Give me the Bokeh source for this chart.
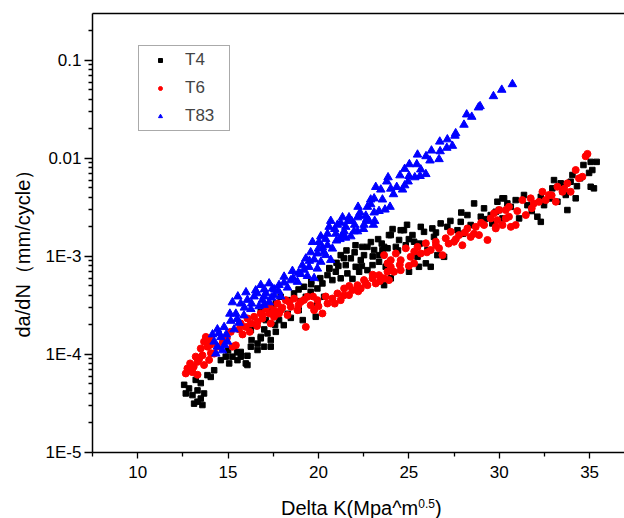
from bokeh.plotting import figure
from bokeh.models import (Range1d, LinearAxis, FixedTicker, CustomJSTickFormatter, Title, Div)
from bokeh.layouts import column
from bokeh.embed import file_html
from bokeh.resources import INLINE

# ---------------- data ----------------
dk_t4 = [12.57, 12.84, 12.66, 13.03, 13.31, 13.49, 13.21, 13.49, 13.31, 13.12, 13.58, 13.67, 13.86, 14.04,
         14.23, 14.60, 14.87, 15.06, 15.24, 15.52, 15.70, 15.98, 16.07, 16.26, 16.63, 16.81, 16.99, 17.18,
         17.36, 17.64, 17.82, 15.32, 15.70, 16.07, 16.63, 17.36, 16.81, 18.08, 18.47, 18.91, 19.13, 16.26,
         16.53, 17.09, 21.23, 21.79, 21.51, 22.06, 22.34, 22.52, 22.71, 23.08, 23.35, 23.63, 23.90, 20.96,
         20.50, 20.77, 21.23, 21.60, 21.88, 22.25, 22.71, 22.99, 23.35, 23.72, 20.22, 19.94, 19.57, 19.20,
         19.30, 18.65, 18.29, 17.91, 17.64, 17.18, 19.94, 19.85, 20.31, 16.81, 28.61, 29.90, 30.45, 29.16,
         28.24, 28.98, 29.53, 29.99, 27.87, 28.42, 27.69, 27.13, 26.76, 26.30, 25.66, 24.73, 25.84, 25.20,
         26.39, 24.00, 24.46, 24.83, 25.29, 23.82, 24.28, 23.54, 26.03, 26.58, 26.95, 25.48, 25.94, 26.21,
         25.01, 25.56, 24.00, 23.63, 35.06, 35.39, 34.66, 34.97, 35.15, 34.05, 34.47, 33.95, 33.03, 33.40,
         32.94, 33.68, 34.23, 35.06, 35.24, 33.77, 33.22, 32.30, 32.48, 31.37, 30.91, 30.27, 30.64, 31.56,
         32.11, 32.30, 29.81, 30.18, 29.62, 31.10, 30.18, 22.43, 24.55, 21.55, 22.05, 22.90, 23.30, 24.10,
         24.90, 20.60, 21.00, 19.60, 18.90, 19.00, 19.60, 20.10, 20.60, 21.10, 21.40, 22.00, 22.40, 23.00,
         23.50, 24.40, 25.00, 25.60, 26.50, 27.30, 27.90, 28.00, 29.20, 31.80, 32.80, 33.50, 34.30, 15.00,
         15.50, 16.30, 17.00, 17.60, 18.30]
dadn_t4 = [4.9e-5, 4.5e-5, 4.0e-5, 3.85e-5, 4.3e-5, 5.1e-5, 5.5e-5, 3.55e-5, 3.3e-5, 3.15e-5, 3.05e-5, 4.0e-5,
           6.15e-5, 5.9e-5, 6.9e-5, 8.75e-5, 9.5e-5, 8.1e-5, 9.5e-5, 8.75e-5, 1.06e-4, 8.1e-5, 9.7e-5, 1.2e-4,
           1.29e-4, 1.46e-4, 1.2e-4, 1.64e-4, 1.4e-4, 1.7e-4, 2.24e-4, 1.2e-4, 9.5e-5, 7.8e-5, 1.11e-4, 1.2e-4,
           1.51e-4, 1.99e-4, 2.36e-4, 2.83e-4, 2.24e-4, 1.77e-4, 1.99e-4, 2.24e-4, 1.03e-3, 9.55e-4, 8.15e-4,
           7.83e-4, 9.16e-4, 1.03e-3, 1.25e-3, 1.16e-3, 1.03e-3, 1.25e-3, 1.65e-3, 6.97e-4, 6.44e-4, 5.73e-4,
           5.97e-4, 6.71e-4, 5.9e-4, 6.97e-4, 7.24e-4, 8.15e-4, 8.81e-4, 7.83e-4, 5.3e-4, 4.71e-4, 4.35e-4,
           4.9e-4, 3.87e-4, 4.19e-4, 3.58e-4, 3.87e-4, 3.31e-4, 2.94e-4, 3.31e-4, 2.42e-4, 3.87e-4, 2.72e-4,
           3.47e-3, 3.61e-3, 3.47e-3, 3.09e-3, 2.64e-3, 2.54e-3, 2.64e-3, 2.97e-3, 2.25e-3, 2.09e-3, 1.85e-3,
           2.0e-3, 2.17e-3, 1.93e-3, 2.0e-3, 1.85e-3, 1.78e-3, 1.65e-3, 1.58e-3, 1.65e-3, 1.47e-3, 1.3e-3,
           1.41e-3, 1.21e-3, 1.25e-3, 1.16e-3, 1.16e-3, 1.03e-3, 9.9e-4, 9.9e-4, 8.49e-4, 7.83e-4, 6.97e-4,
           7.83e-4, 5.97e-4, 5.09e-4, 9.2e-3, 9.2e-3, 8.55e-3, 7.1e-3, 7.6e-3, 6.76e-3, 6.25e-3, 5.77e-3,
           6.0e-3, 5.56e-3, 4.94e-3, 4.23e-3, 3.91e-3, 5.13e-3, 4.94e-3, 2.97e-3, 3.61e-3, 4.05e-3, 3.33e-3,
           4.23e-3, 3.75e-3, 3.91e-3, 3.2e-3, 3.33e-3, 2.54e-3, 2.25e-3, 2.85e-3, 2.44e-3, 2.17e-3, 2.44e-3,
           3.91e-3, 1.25e-3, 1.85e-3, 1.15e-3, 1.3e-3, 1.4e-3, 1.5e-3, 1.9e-3,
           2.1e-3, 7.6e-4, 8.6e-4, 5.6e-4, 4.6e-4, 3.5e-4, 5.2e-4, 6.0e-4, 7.5e-4, 8.0e-4, 9.6e-4, 1.1e-3,
           8.0e-4, 1.0e-3, 1.35e-3, 1.15e-3, 1.5e-3, 1.35e-3, 1.75e-3, 2.3e-3, 2.8e-3, 1.7e-3, 2.4e-3, 2.9e-3,
           3.9e-3, 4.6e-3, 5.2e-3, 1.1e-4, 1.05e-4, 1.4e-4, 1.8e-4, 2.0e-4, 2.6e-4]

dk_t6 = [12.75, 12.66, 13.03, 13.31, 12.90, 13.31, 13.67, 13.21, 13.58, 13.95, 13.49, 13.86, 13.67, 14.04,
         14.23, 13.77, 15.24, 15.43, 15.15, 15.61, 15.98, 15.70, 16.26, 16.63, 16.07, 16.44, 16.90, 16.81,
         17.27, 17.09, 17.54, 17.36, 17.82, 14.71, 14.93, 14.05, 17.13, 17.73, 17.91, 18.19, 18.47, 18.65,
         18.84, 19.02, 19.39, 19.57, 19.76, 19.94, 20.22, 20.50, 20.77, 21.05, 21.23, 21.42, 21.69, 21.88,
         22.16, 22.34, 22.52, 22.71, 22.99, 23.17, 23.35, 23.63, 23.82, 19.30, 17.54, 16.90, 18.29, 23.63,
         23.82, 24.18, 23.54, 23.90, 24.28, 24.55, 24.83, 25.10, 25.29, 25.48, 25.66, 25.94, 26.21, 26.49,
         26.67, 26.86, 27.04, 27.32, 27.50, 27.78, 27.96, 28.24, 28.42, 28.70, 28.88, 29.16, 29.35, 29.53,
         29.81, 29.99, 30.36, 30.54, 30.18, 24.00, 24.55, 29.71, 29.90, 30.36, 30.54, 30.91, 31.28, 31.47,
         31.74, 31.92, 32.39, 32.57, 32.75, 33.13, 33.22, 33.50, 33.77, 33.95, 34.23, 34.41, 34.60, 34.88,
         34.78, 29.81, 30.64, 17.30, 17.70, 18.00, 18.40, 18.90, 19.20, 19.70, 20.00, 20.40, 20.90, 21.40,
         21.70, 22.20, 22.60, 23.00, 23.40, 24.00, 24.50, 25.00, 25.30, 26.00, 26.50, 27.20, 27.60, 28.10,
         28.60, 29.00, 31.00, 31.80, 32.20, 32.90, 33.60, 16.20, 16.60, 15.80, 14.40, 14.00, 13.40, 13.10]
dadn_t6 = [7.2e-5, 6.4e-5, 6.6e-5, 6.2e-5, 8.1e-5, 8.4e-5, 7.8e-5, 9.5e-5, 9.8e-5, 8.8e-5, 1.15e-4, 1.2e-4,
           1.35e-4, 1.4e-4, 1.02e-4, 1.51e-4, 1.2e-4, 1.24e-4, 1.7e-4, 1.8e-4, 1.91e-4, 2.07e-4, 2.07e-4,
           2.15e-4, 2.33e-4, 2.42e-4, 2.33e-4, 2.62e-4, 2.62e-4, 2.94e-4, 2.83e-4, 2.07e-4, 2.62e-4, 1.34e-4,
           1.47e-4, 1.03e-4, 3.06e-4, 3.31e-4, 2.83e-4, 3.58e-4, 3.06e-4, 3.72e-4, 2.83e-4, 3.44e-4, 3.87e-4,
           3.18e-4, 2.83e-4, 3.58e-4, 2.62e-4, 3.31e-4, 3.72e-4, 4.19e-4, 3.58e-4, 4.71e-4, 4.03e-4, 4.53e-4,
           5.09e-4, 4.71e-4, 5.73e-4, 5.09e-4, 5.97e-4, 5.3e-4, 6.44e-4, 5.97e-4, 6.98e-4, 1.91e-4, 2.42e-4,
           2.52e-4, 2.52e-4, 1.03e-3, 8.49e-4, 6.97e-4, 5.97e-4, 5.73e-4, 1.07e-3, 9.16e-4, 1.21e-3, 9.9e-4,
           8.49e-4, 1.25e-3, 1.07e-3, 1.36e-3, 1.16e-3, 1.41e-3, 1.21e-3, 1.03e-3, 1.53e-3, 1.78e-3, 1.41e-3,
           1.65e-3, 1.3e-3, 1.93e-3, 1.58e-3, 2.0e-3, 1.65e-3, 2.09e-3, 1.47e-3, 2.44e-3, 2.0e-3, 2.97e-3,
           2.44e-3, 3.2e-3, 2.09e-3, 9.16e-4, 7.24e-4, 2.75e-3, 2.34e-3, 2.97e-3, 2.54e-3, 2.09e-3, 3.75e-3,
           2.64e-3, 3.91e-3, 3.47e-3, 4.56e-3, 3.75e-3, 4.23e-3, 3.61e-3, 5.13e-3, 4.56e-3, 5.56e-3, 4.56e-3,
           7.6e-3, 6.25e-3, 6.49e-3, 1.11e-2, 1.05e-2, 1.93e-3, 2.0e-3, 3.2e-4, 2.6e-4, 3.0e-4, 3.4e-4,
           3.2e-4, 3.6e-4, 3.9e-4, 3.1e-4, 3.9e-4, 3.3e-4, 4.0e-4, 5.0e-4, 4.4e-4, 5.4e-4, 6.5e-4, 5.6e-4,
           7.8e-4, 8.2e-4, 8.0e-4, 1.12e-3, 1.1e-3, 1.3e-3, 1.35e-3, 1.5e-3, 1.75e-3, 1.7e-3, 2.2e-3, 2.9e-3,
           3.1e-3, 3.6e-3, 4.2e-3, 4.9e-3, 1.7e-4, 1.95e-4, 1.6e-4, 1.2e-4, 1.25e-4, 9.0e-5, 7.5e-5]

dk_t83 = [30.73, 30.14, 29.68, 28.94, 28.85, 28.20, 28.48, 28.05, 27.59, 27.55, 27.13, 26.71, 27.41, 27.10,
          26.73, 26.25, 25.95, 25.48, 26.17, 26.67, 25.44, 25.03, 24.77, 25.66, 24.51, 23.85, 25.01, 25.33,
          25.62, 25.94, 24.96, 24.77, 23.78, 23.17, 23.45, 24.00, 24.33, 24.15, 24.65, 22.89, 23.08, 23.54,
          23.96, 23.68, 23.35, 23.08, 22.71, 22.19, 22.30, 22.62, 23.11, 22.80, 22.16, 21.83, 21.33, 21.69,
          20.68, 21.05, 21.51, 21.97, 22.49, 20.50, 20.96, 21.33, 22.89, 22.25, 22.67, 23.04, 22.52, 22.16,
          21.23, 21.64, 20.59, 20.90, 21.42, 21.79, 21.19, 20.13, 20.40, 19.67, 20.03, 20.50, 20.77, 20.22,
          19.57, 19.94, 20.40, 19.30, 19.76, 20.13, 20.68, 19.11, 19.48, 19.94, 18.56, 19.02, 19.39, 19.76,
          18.10, 18.47, 18.84, 17.82, 18.29, 17.46, 17.09, 17.54, 17.91, 16.90, 17.27, 16.99, 16.81, 17.27,
          17.58, 15.24, 15.70, 16.07, 16.44, 16.99, 16.26, 16.71, 15.43, 15.88, 15.15, 15.61, 14.78, 14.41,
          15.33, 14.14, 14.60, 14.23, 14.97, 14.41, 14.69, 14.32, 15.99, 16.53, 15.54, 15.10, 15.50, 15.90,
          16.30, 16.60, 17.00, 17.40, 17.80, 18.10, 18.60, 18.90, 19.20, 19.50, 20.00, 20.30, 21.00, 21.50,
          22.00, 14.50, 14.90, 14.80]
dadn_t83 = [0.057, 0.050, 0.043, 0.034, 0.033, 0.028, 0.0265, 0.022, 0.018, 0.017, 0.0156, 0.0148, 0.0134,
            0.0128, 0.0118, 0.0120, 0.0105, 0.0109, 0.0095, 0.0098, 0.0087, 0.0087, 0.0078, 0.0077, 0.0067,
            0.0064, 0.0066, 0.0064, 0.0066, 0.0069, 0.0058, 0.0053, 0.0058, 0.0051, 0.0048, 0.0049, 0.0051,
            0.0043, 0.0048, 0.0038, 0.0039, 0.0038, 0.0032, 0.0030, 0.0029, 0.0028, 0.0032, 0.0032, 0.0028,
            0.0026, 0.0023, 0.0023, 0.0025, 0.0023, 0.0025, 0.0025, 0.0023, 0.0021, 0.0020, 0.0018, 0.0019,
            0.0017, 0.0017, 0.00165, 0.0034, 0.0026, 0.0024, 0.0021, 0.0021, 0.0018, 0.0022, 0.0023, 0.0020,
            0.0019, 0.0018, 0.0016, 0.0015, 0.0016, 0.0015, 0.0014, 0.0014, 0.0013, 0.0012, 0.00124, 0.0011,
            0.00107, 0.00103, 0.00095, 0.00093, 0.00088, 0.00092, 0.00081, 0.00078, 0.00075, 0.00071, 0.00066,
            0.00063, 0.0006, 0.00062, 0.00057, 0.00055, 0.00051, 0.00048, 0.00047, 0.00042, 0.0004, 0.00039,
            0.00036, 0.00034, 0.00032, 0.00051, 0.00053, 0.00046, 0.00034, 0.00033, 0.00036, 0.00039, 0.00039,
            0.00029, 0.00031, 0.00026, 0.00025, 0.00022, 0.00021, 0.00019, 0.00018, 0.00018, 0.00016, 0.00015,
            0.000135, 0.000135, 0.00012, 0.00011, 0.000102, 0.00043, 0.00045, 0.00039, 0.00026, 0.00023,
            0.00030, 0.00033, 0.00042, 0.00046, 0.00038, 0.00044, 0.00054, 0.00060, 0.00068, 0.00073, 0.00090,
            0.0012, 0.0011, 0.00145, 0.00155, 0.0021, 0.000165, 0.00016, 0.000125]

series_names = ["T4", "T6", "T83"]
x_ticks = [10, 15, 20, 25, 30, 35]
y_ticks = [1e-5, 1e-4, 1e-3, 1e-2, 1e-1]
x_title_main, x_title_sup, x_title_end = "Delta K(Mpa^m", "0.5", ")"
y_title = "da/dN（mm/cycle）"

# ---------------- figure ----------------
FONT = "Liberation Sans"
p = figure(width=624, height=500, output_backend="svg", toolbar_location=None,
           x_range=Range1d(7.5, 36.93), y_range=Range1d(1e-5, 0.3), y_axis_type="log",
           min_border_left=92, min_border_right=0, min_border_top=13, min_border_bottom=48,
           background_fill_color="white", border_fill_color="white", outline_line_color=None)
p.xgrid.visible = False
p.ygrid.visible = False

xa = p.xaxis[0]
xa.ticker = FixedTicker(ticks=x_ticks, minor_ticks=[7.5 + 5 * i for i in range(7)])
ya = p.yaxis[0]
ya.ticker = FixedTicker(ticks=y_ticks,
                        minor_ticks=[m * 10.0 ** e for e in range(-5, 0) for m in range(2, 10)])
ya.formatter = CustomJSTickFormatter(code="""
    const e = Math.round(Math.log10(tick));
    return e >= -2 ? String(Number(tick.toPrecision(3))) : "1E" + e;
""")
for ax in (xa, ya):
    ax.axis_line_width = 1.5
    ax.axis_line_color = "black"
    ax.major_tick_line_width = 1.3
    ax.minor_tick_line_width = 1.3
    ax.major_tick_in = 0
    ax.minor_tick_in = 0
    ax.major_label_text_font = FONT
    ax.major_label_text_font_size = "17px"
    ax.major_label_text_color = "black"
    ax.axis_label = None
xa.major_tick_out = 6
xa.minor_tick_out = 4
xa.major_label_standoff = 7
ya.major_tick_out = 8
ya.minor_tick_out = 4
ya.major_label_standoff = 3

top = LinearAxis(ticker=FixedTicker(ticks=[], minor_ticks=[]), major_label_text_font_size="0px",
                 major_tick_out=0, major_tick_in=0, minor_tick_out=0, minor_tick_in=0,
                 axis_line_width=1.5, axis_line_color="black", axis_label=None)
p.add_layout(top, "above")

# y-axis title
p.add_layout(Title(text=y_title, align="left", offset=115, text_font=FONT, text_font_size="20px",
                   text_font_style="normal", text_color="black", standoff=17), "left")

p.scatter(dk_t4, dadn_t4, marker="square", size=5.5, color="black", legend_label=series_names[0])
p.scatter(dk_t6, dadn_t6, marker="circle", size=7, color="#FF0000", legend_label=series_names[1])
p.scatter(dk_t83, dadn_t83, marker="triangle", size=8.5, color="#0000FF", legend_label=series_names[2])

lg = p.legend[0]
lg.location = (46, 321)
lg.padding = 4
lg.spacing = 8
lg.margin = 0
lg.label_height = 14
lg.glyph_height = 10
lg.glyph_width = 34
lg.label_standoff = 8
lg.label_width = 40
lg.label_text_font = FONT
lg.label_text_font_size = "17px"
lg.border_line_color = "#555555"
lg.border_line_width = 1
lg.background_fill_alpha = 1.0

# x-axis title (with a real superscript) in a strip below the plot
x_html = (
    '<span style="position:absolute;left:281px;top:-4px;white-space:nowrap;'
    "font-family:'Liberation Sans',sans-serif;font-size:20px;line-height:24px;color:black;\">"
    f'{x_title_main}<sup style="font-size:12px;vertical-align:7px;line-height:0">{x_title_sup}</sup>'
    f'{x_title_end}</span>'
)
xdiv = Div(text=x_html, width=624, height=18, margin=0, styles={"overflow": "visible"})

layout = column(p, xdiv, spacing=0)
open("out.html", "w").write(file_html(layout, INLINE))
